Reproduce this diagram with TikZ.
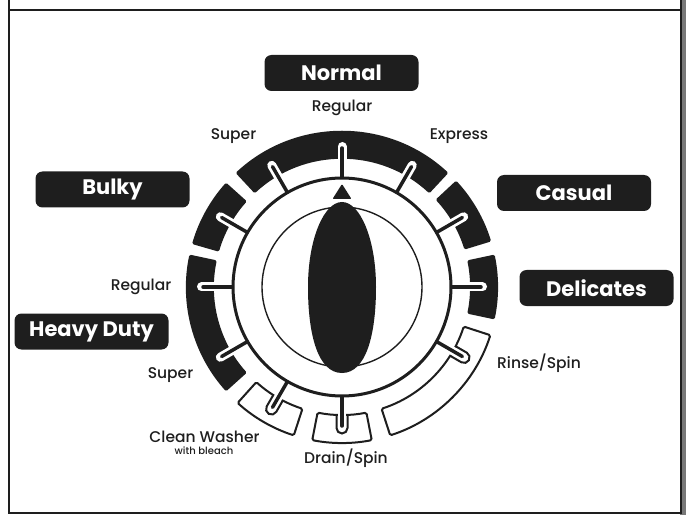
\documentclass[tikz,border=0pt]{standalone}
\usepackage{fontspec}
\setmainfont{Poppins}
\newfontfamily\labelfont{Poppins Medium}
\usepackage{tikz}
\definecolor{ink}{RGB}{30,30,30}
\definecolor{edgegray}{RGB}{120,120,120}
\newcommand{\rin}{128}
\newcommand{\rout}{156}
\tikzset{
  modebox/.style={rectangle, rounded corners=7pt, fill=ink, text=white,
    minimum width=154pt, minimum height=36pt, inner sep=0pt,
    font=\fontsize{21}{24}\selectfont\bfseries},
  cyclelabel/.style={text=ink, inner sep=0pt, font=\labelfont\fontsize{15.5}{18}\selectfont},
  smalllabel/.style={text=ink, inner sep=0pt, font=\labelfont\fontsize{10}{12}\selectfont},
  blackseg/.style={fill=ink, rounded corners=1.5pt},
  whiteseg/.style={draw=ink, fill=white, line width=2pt, rounded corners=1.5pt},
  tickhalo/.style={white, line width=9pt, line cap=round},
  tickcore/.style={ink, line width=3.5pt, line cap=round},
  notch/.style={draw=ink, line width=2pt},
  frame/.style={ink, line width=2.5pt}
}
% one sector of the selector band
\newcommand{\bandseg}[3]{%
  \path[#1] (#2:\rin) arc[start angle=#2, end angle=#3, radius=\rin]
    -- (#3:\rout) arc[start angle=#3, end angle=#2, radius=\rout] -- cycle;}

\begin{document}
\begin{tikzpicture}[x=1pt, y=1pt]
  \useasboundingbox (0,0) rectangle (686,515);
  % Panel frame
  \fill[edgegray] (680,0) rectangle (686,515);
  \draw[frame] (9,515) -- (9,2) -- (681,2) -- (681,515);
  \draw[frame] (9,505) -- (681,505);
  % Dial
  \coordinate (dial) at (342,228);
  \begin{scope}[shift={(dial)}]
    % Band sectors
    \bandseg{blackseg}{47}{133}
    \bandseg{blackseg}{138}{164}
    \bandseg{blackseg}{168}{222}
    \bandseg{blackseg}{17}{43}
    \bandseg{blackseg}{-12}{12}
    \bandseg{whiteseg}{228}{252}
    \bandseg{whiteseg}{259}{281}
    \bandseg{whiteseg}{288}{342}
    % Tick slots
    \foreach \a in {0,30,...,210}
      \draw[tickhalo] (\a:114) -- (\a:140.5);
    \foreach \a in {240,270,330}{
      \begin{scope}[rotate=\a]
        \fill[white] (125,-4.4) rectangle (131,4.4);
        \draw[notch] (128,-5.5) -- (141,-5.5)
          arc[start angle=-90, end angle=90, radius=5.5] -- (128,5.5);
      \end{scope}
    }
    % Ticks
    \foreach \a in {0,30,...,270,330}
      \draw[tickcore] (\a:109) -- (\a:139);
    % Knob
    \draw[ink, line width=3pt, fill=white] (0,0) circle[radius=109];
    \draw[ink, line width=1.4pt] (0,0) circle[radius=80];
    \fill[ink] (0,85) .. controls (18,85) and (34,48) .. (34,0)
      .. controls (34,-48) and (24,-86) .. (0,-86)
      .. controls (-24,-86) and (-34,-48) .. (-34,0)
      .. controls (-34,48) and (-18,85) .. (0,85) -- cycle;
    \fill[ink, rounded corners=1pt] (0,103) -- (9.5,88) -- (-9.5,88) -- cycle;
  \end{scope}
  % Cycle groups
  \node[modebox] (normal) at (341.5,442) {Normal};
  \node[modebox] (bulky) at (112.5,325.5) {Bulky};
  \node[modebox] (heavy) at (91.5,183.5) {Heavy Duty};
  \node[modebox] (casual) at (574,322) {Casual};
  \node[modebox] (delicates) at (596.5,227) {Delicates};
  % Settings
  \node[cyclelabel] (normreg) at (342,407) {Regular};
  \node[cyclelabel] (normsup) at (233.5,379) {Super};
  \node[cyclelabel] (express) at (459,379) {Express};
  \node[cyclelabel] (heavyreg) at (141,228) {Regular};
  \node[cyclelabel] (heavysup) at (170.5,140) {Super};
  \node[cyclelabel] (clean) at (204.5,78) {Clean Washer};
  \node[smalllabel] (bleach) at (204,64) {with bleach};
  \node[cyclelabel] (drain) at (346,57) {Drain/Spin};
  \node[cyclelabel] (rinse) at (539,152) {Rinse/Spin};
\end{tikzpicture}
\end{document}
